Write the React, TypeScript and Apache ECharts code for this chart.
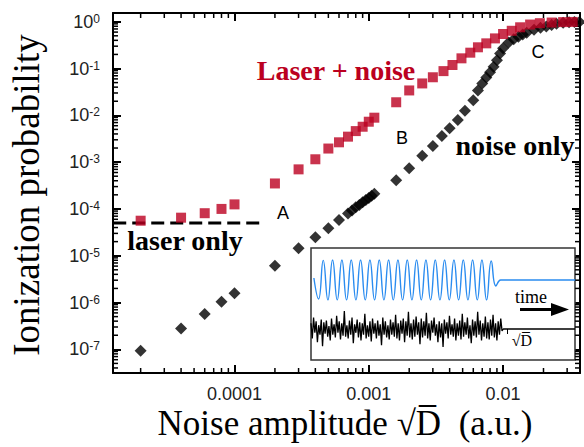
import React, { useEffect, useRef } from 'react';
import * as echarts from 'echarts';

// ---- Data ----
const noiseOnlyX = [2e-5, 4e-5, 6e-5, 8e-5, 1e-4, 2e-4, 3e-4, 4e-4, 5e-4, 6e-4, 7e-4, 7.5e-4, 8e-4, 8.5e-4, 9e-4, 9.5e-4, 1e-3, 1.05e-3, 1.1e-3, 1.6e-3, 2e-3, 2.5e-3, 3e-3, 3.5e-3, 4e-3, 4.6e-3, 5.2e-3, 6e-3, 6.5e-3, 7e-3, 7.5e-3, 8e-3, 8.5e-3, 9e-3, 9.5e-3, 0.01, 0.011, 0.012, 0.013, 0.014, 0.015, 0.017, 0.019, 0.021, 0.023, 0.025, 0.028, 0.031, 0.034, 0.037];
const noiseOnlyY = [9.3e-8, 2.8e-7, 5.7e-7, 1.04e-6, 1.57e-6, 6.1e-6, 1.44e-5, 2.47e-5, 3.85e-5, 5.8e-5, 8.0e-5, 9.3e-5, 1.08e-4, 1.22e-4, 1.38e-4, 1.55e-4, 1.72e-4, 1.9e-4, 2.1e-4, 4.1e-4, 7.4e-4, 1.36e-3, 2.2e-3, 3.6e-3, 5.3e-3, 7.9e-3, 0.0125, 0.021, 0.034, 0.048, 0.064, 0.083, 0.109, 0.15, 0.21, 0.27, 0.36, 0.42, 0.48, 0.53, 0.58, 0.67, 0.74, 0.79, 0.85, 0.9, 0.95, 0.97, 0.98, 0.99];

const laserNoiseX = [2e-5, 4e-5, 6e-5, 8e-5, 1e-4, 2e-4, 3e-4, 4e-4, 5e-4, 6e-4, 7e-4, 8e-4, 9e-4, 1e-3, 1.1e-3, 1.6e-3, 2e-3, 2.5e-3, 3e-3, 3.6e-3, 4.2e-3, 4.9e-3, 5.7e-3, 6.5e-3, 7.5e-3, 8.7e-3, 0.01, 0.0116, 0.0134, 0.0159, 0.0188, 0.023, 0.028, 0.033];
const laserNoiseY = [5.6e-5, 6.5e-5, 8.1e-5, 1.0e-4, 1.25e-4, 3.5e-4, 7.0e-4, 1.15e-3, 1.95e-3, 2.65e-3, 3.5e-3, 4.6e-3, 5.7e-3, 7.3e-3, 8.9e-3, 0.019, 0.034, 0.048, 0.065, 0.088, 0.119, 0.165, 0.218, 0.284, 0.345, 0.44, 0.546, 0.64, 0.76, 0.87, 0.93, 0.96, 0.98, 0.99];

const laserOnlyLevel = 5e-5;
const laserOnlyRange = [1.25e-5, 1.55e-4];

// axis ranges and tick values
const X_MIN = 1.245e-5;
const X_MAX = 0.0374;
const Y_MIN = 3.12e-8;
const Y_MAX = 1.535;
const xDecades = [1e-5, 1e-4, 1e-3, 1e-2];
const yDecades = [1e-8, 1e-7, 1e-6, 1e-5, 1e-4, 1e-3, 1e-2, 1e-1, 1];
const minorMultipliers = [2, 3, 4, 5, 6, 7, 8, 9];

// inset: laser pulse (normalised field, one value per half cycle) and noise trace
const laserPulse = [0.1, -0.95, 0.98, -1, 1, -1, 1, -1, 1, -1, 1, -1, 1, -1, 1, -1, 1, -1, 1, -1, 1, -1, 1, -1, 1, -1, 1, -1, 1, -1, 1, -1, 1, -1, 1, -1, 1, -1, 0.95, -0.3, 0, 0, 0, 0, 0, 0, 0, 0, 0, 0, 0, 0, 0, 0, 0, 0, 0];
const noiseTrace = [
  0.3, -0.5, 0.6, -0.2, 0.4, -0.7, 0.2, -0.3, 0.5, -0.9,
  0.35, -0.25, 0.45, -0.4, 0.15, -0.6, 0.55, -0.3, 0.25, -0.45,
  0.7, -0.2, 0.4, -0.55, 0.3, -0.35, 0.95, -0.4, 0.2, -0.5,
  0.45, -0.3, 0.6, -0.75, 0.25, -0.2, 0.5, -0.45, 0.35, -0.6,
  0.3, -0.3, 0.8, -0.5, 0.2, -0.4, 0.4, -0.65, 0.55, -0.25,
  0.3, -0.5, 0.45, -0.35, 0.25, -0.85, 0.6, -0.3, 0.4, -0.45,
  0.2, -0.55, 0.5, -0.3, 0.35, -0.4, 0.75, -0.5, 0.3, -0.6,
  0.45, -0.25, 0.55, -0.7, 0.4, -0.35, 0.9, -0.45, 0.3, -0.55,
  0.5, -0.4, 0.65, -0.3, 0.35, -0.8, 0.55, -0.45, 0.4, -0.35,
  0.85, -0.5, 0.3, -0.6, 0.45, -0.2, 0.6, -0.35, 0.25, -0.7,
  0.4, -0.45, 0.3, -0.95, 0.5, -0.25, 0.35, -0.5, 0.7, -0.3,
  0.25, -0.4, 0.55, -0.6, 0.3, -0.35, 0.45, -0.55, 0.8, -0.4,
  0.35, -0.3, 0.6, -0.5, 0.2, -0.75, 0.5, -0.35, 0.4, -0.45,
  0.9, -0.3, 0.45, -0.6, 0.3, -0.4, 0.65, -0.5, 0.35, -0.55,
  0.5, -0.35, 0.75, -0.45, 0.3, -0.6, 0.4, -0.3, 0.55, -0.1,
];
const noiseTailLength = 57;

const RED = '#bb0020';
const SERIF = '"Liberation Serif", "Times New Roman", serif';
const SANS = '"Liberation Sans", Arial, sans-serif';

function isDecade(v: number) {
  const e = Math.log10(v);
  return Math.abs(e - Math.round(e)) < 1e-6;
}

export default function App() {
  const ref = useRef<HTMLDivElement>(null);
  useEffect(() => {
    const chart = echarts.init(ref.current!, null, { renderer: 'svg' });

    const xMinor: number[][] = [];
    xDecades.forEach((d) => minorMultipliers.forEach((m) => {
      const v = d * m;
      if (v > X_MIN && v < X_MAX) xMinor.push([v, 1e-3]);
    }));
    const yMinor: number[][] = [];
    yDecades.forEach((d) => minorMultipliers.forEach((m) => {
      const v = d * m;
      if (v > Y_MIN && v < Y_MAX) yMinor.push([1e-3, v]);
    }));

    const noiseFull = noiseTrace.concat(new Array(noiseTailLength).fill(0));

    const tickStyle = { stroke: '#000', lineWidth: 1.5 };
    const mainAxisCommon = {
      axisLine: { show: true, lineStyle: { color: '#000', width: 2 } },
      axisTick: { show: true, inside: true, length: 8, lineStyle: { color: '#000', width: 2 } },
      splitLine: { show: false },
      minorTick: { show: false },
    };

    const option: any = {
      animation: false,
      backgroundColor: '#fff',
      grid: [
        { left: 113, top: 13, width: 467, height: 360 },
        { left: 313.9, top: 260, width: 261.4, height: 40 },
        { left: 311, top: 310, width: 264.1, height: 38 },
      ],
      xAxis: [
        {
          type: 'log', gridIndex: 0, position: 'bottom', min: X_MIN, max: X_MAX, ...mainAxisCommon,
          axisLabel: {
            interval: 0, margin: 12, fontFamily: SANS, fontSize: 18, color: '#222',
            formatter: (v: number) => (isDecade(v) ? v.toFixed(-Math.round(Math.log10(v))) : ''),
          },
        },
        {
          type: 'log', gridIndex: 0, position: 'top', min: X_MIN, max: X_MAX, ...mainAxisCommon,
          axisLabel: { show: false },
        },
        { type: 'category', gridIndex: 1, show: false, boundaryGap: false, data: laserPulse.map((_, i) => i) },
        { type: 'category', gridIndex: 2, show: false, boundaryGap: false, data: noiseFull.map((_, i) => i) },
      ],
      yAxis: [
        {
          type: 'log', gridIndex: 0, position: 'left', min: Y_MIN, max: Y_MAX, ...mainAxisCommon,
          axisLabel: {
            interval: 0, margin: 13,
            formatter: (v: number) => (isDecade(v) ? `{b|10}{s|${Math.round(Math.log10(v))}}` : ''),
            rich: {
              b: { fontFamily: SANS, fontSize: 18, color: '#222' },
              s: { fontFamily: SANS, fontSize: 12, color: '#222', verticalAlign: 'top' },
            },
          },
        },
        {
          type: 'log', gridIndex: 0, position: 'right', min: Y_MIN, max: Y_MAX, ...mainAxisCommon,
          axisLabel: { show: false },
        },
        { type: 'value', gridIndex: 1, show: false, min: -1, max: 1 },
        { type: 'value', gridIndex: 2, show: false, min: -1, max: 1 },
      ],
      series: [
        {
          type: 'custom', xAxisIndex: 0, yAxisIndex: 0, silent: true, z: 3,
          data: xMinor,
          renderItem: (params: any, api: any) => {
            const cs = params.coordSys;
            const x = api.coord([api.value(0), api.value(1)])[0];
            const b = cs.y + cs.height;
            return {
              type: 'group', children: [
                { type: 'line', shape: { x1: x, y1: b, x2: x, y2: b - 5 }, style: tickStyle },
                { type: 'line', shape: { x1: x, y1: cs.y, x2: x, y2: cs.y + 5 }, style: tickStyle },
              ],
            };
          },
        },
        {
          type: 'custom', xAxisIndex: 0, yAxisIndex: 0, silent: true, z: 3,
          data: yMinor,
          renderItem: (params: any, api: any) => {
            const cs = params.coordSys;
            const y = api.coord([api.value(0), api.value(1)])[1];
            const r = cs.x + cs.width;
            return {
              type: 'group', children: [
                { type: 'line', shape: { x1: cs.x, y1: y, x2: cs.x + 5, y2: y }, style: tickStyle },
                { type: 'line', shape: { x1: r, y1: y, x2: r - 5, y2: y }, style: tickStyle },
              ],
            };
          },
        },
        {
          name: 'laser only', type: 'line', xAxisIndex: 0, yAxisIndex: 0, symbol: 'none', z: 2,
          data: laserOnlyRange.map((x) => [x, laserOnlyLevel]),
          lineStyle: { color: '#000', width: 3, type: [13, 6] },
        },
        {
          name: 'noise only', type: 'scatter', xAxisIndex: 0, yAxisIndex: 0, symbol: 'diamond', symbolSize: 12,
          itemStyle: { color: '#000' }, z: 4,
          data: noiseOnlyX.map((x, i) => [x, noiseOnlyY[i]]),
        },
        {
          name: 'Laser + noise', type: 'scatter', xAxisIndex: 0, yAxisIndex: 0, symbol: 'rect', symbolSize: 10,
          itemStyle: { color: RED }, z: 5,
          data: laserNoiseX.map((x, i) => [x, laserNoiseY[i]]),
        },
        {
          type: 'line', xAxisIndex: 2, yAxisIndex: 2, symbol: 'none', smooth: 0.5, z: 6,
          data: laserPulse, lineStyle: { color: '#2a8cf0', width: 1.4 },
        },
        {
          type: 'line', xAxisIndex: 3, yAxisIndex: 3, symbol: 'none', z: 6,
          data: noiseFull, lineStyle: { color: '#000', width: 1.3 },
        },
      ],
      graphic: [
        { type: 'rect', z: 1, shape: { x: 311, y: 248, width: 264, height: 112 }, style: { fill: '#fff', stroke: '#333', lineWidth: 1.5 } },
        { type: 'line', z: 10, shape: { x1: 520, y1: 309.5, x2: 556, y2: 309.5 }, style: { stroke: '#000', lineWidth: 3 } },
        { type: 'polygon', z: 10, shape: { points: [[551, 303], [569, 309.5], [551, 316]] }, style: { fill: '#000' } },
        { type: 'line', z: 10, shape: { x1: 507.5, y1: 329, x2: 507.5, y2: 334 }, style: { stroke: '#000', lineWidth: 1 } },
        { type: 'text', z: 10, x: 531, y: 297, style: { text: 'time', fontFamily: SERIF, fontSize: 18, fill: '#000', align: 'center', verticalAlign: 'middle' } },
        { type: 'text', z: 10, x: 522, y: 340, style: { text: '√D\u0305', fontFamily: SERIF, fontSize: 16, fill: '#000', align: 'center', verticalAlign: 'middle' } },
        { type: 'text', z: 10, x: 336, y: 70, style: { text: 'Laser + noise', fontFamily: SERIF, fontWeight: 'bold', fontSize: 28, fill: RED, align: 'center', verticalAlign: 'middle' } },
        { type: 'text', z: 10, x: 185, y: 240, style: { text: 'laser only', fontFamily: SERIF, fontWeight: 'bold', fontSize: 28, fill: '#000', align: 'center', verticalAlign: 'middle' } },
        { type: 'text', z: 10, x: 515, y: 145, style: { text: 'noise only', fontFamily: SERIF, fontWeight: 'bold', fontSize: 28, fill: '#000', align: 'center', verticalAlign: 'middle' } },
        { type: 'text', z: 10, x: 283, y: 213, style: { text: 'A', fontFamily: SANS, fontSize: 18, fill: '#000', align: 'center', verticalAlign: 'middle' } },
        { type: 'text', z: 10, x: 402, y: 138, style: { text: 'B', fontFamily: SANS, fontSize: 18, fill: '#000', align: 'center', verticalAlign: 'middle' } },
        { type: 'text', z: 10, x: 538, y: 52, style: { text: 'C', fontFamily: SANS, fontSize: 18, fill: '#000', align: 'center', verticalAlign: 'middle' } },
        { type: 'text', z: 10, x: 26, y: 195, rotation: Math.PI / 2, style: { text: 'Ionization probability', fontFamily: SERIF, fontSize: 37, fill: '#000', align: 'center', verticalAlign: 'middle' } },
        { type: 'text', z: 10, x: 345, y: 423, style: { text: 'Noise amplitude √D\u0305  (a.u.)', fontFamily: SERIF, fontSize: 35, fill: '#000', align: 'center', verticalAlign: 'middle' } },
      ],
    };

    chart.setOption(option);
    return () => chart.dispose();
  }, []);

  return <div ref={ref} style={{ position: 'fixed', left: 0, top: 0, width: 584, height: 447, background: '#fff' }} />;
}
